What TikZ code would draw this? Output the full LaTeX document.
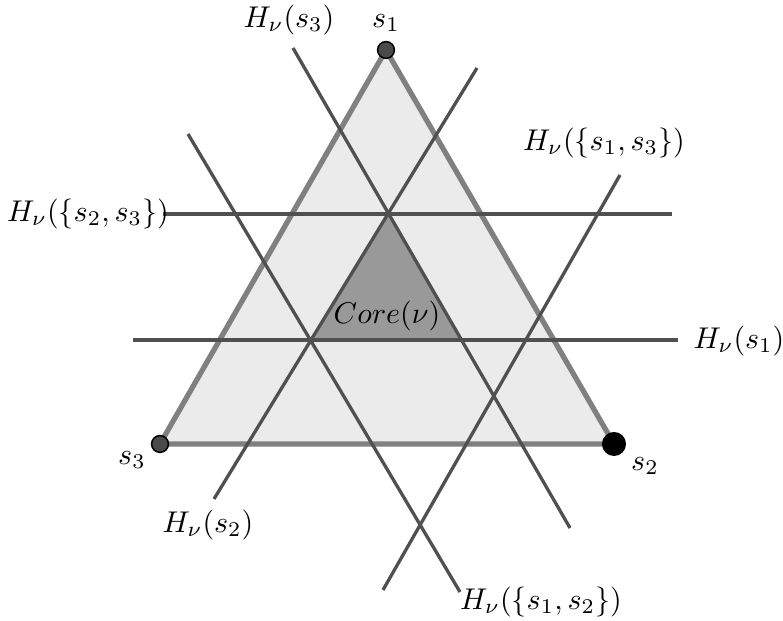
\documentclass[tikz,border=0pt]{standalone}
\definecolor{trifill}{HTML}{EBEBEB}
\definecolor{edgegrey}{HTML}{808080}
\definecolor{linegrey}{HTML}{505050}
\definecolor{corefill}{HTML}{999999}
\definecolor{dotgrey}{HTML}{4A4A4A}
\begin{document}
\begin{tikzpicture}[x=0.3333pt,y=-0.3333pt,
  edgeline/.style={draw=edgegrey,line width=1.75pt,line join=round},
  hline/.style={draw=linegrey,line width=1.1pt},
  lbl/.style={inner sep=0pt},
  smalldot/.style={circle,fill=dotgrey,draw=black,line width=0.5pt,minimum size=5.6pt,inner sep=0pt},
  bigdot/.style={circle,fill=black,draw=black,minimum size=7.6pt,inner sep=0pt}]
\useasboundingbox (0,0) rectangle (783,621);
% vertices
\coordinate (S1) at (386,50);
\coordinate (S2) at (614,444);
\coordinate (S3) at (160,444);
% core
\coordinate (C1) at (388,214);
\coordinate (C2) at (311,340);
\coordinate (C3) at (462,340);
\fill[trifill] (S1)--(S2)--(S3)--cycle;
\fill[corefill] (C1)--(C2)--(C3)--cycle;
\draw[edgeline] (S1)--(S2)--(S3)--cycle;
% line end points
\coordinate (a1) at (133,340); \coordinate (a2) at (678,340);
\coordinate (b1) at (163,214); \coordinate (b2) at (672,214);
\coordinate (c1) at (477,68);  \coordinate (c2) at (214,499);
\coordinate (d1) at (293,48);  \coordinate (d2) at (570,528);
\coordinate (e1) at (188,134); \coordinate (e2) at (460,592);
\coordinate (f1) at (620,175); \coordinate (f2) at (383,590);
\draw[hline] (a1)--(a2);
\draw[hline] (b1)--(b2);
\draw[hline] (c1)--(c2);
\draw[hline] (d1)--(d2);
\draw[hline] (e1)--(e2);
\draw[hline] (f1)--(f2);
% dots
\node[smalldot] (s1dot) at (S1) {};
\node[smalldot] (s3dot) at (S3) {};
\node[bigdot] (s2dot) at (S2) {};
% labels
\node[lbl] (ls1) at (386,23) {$s_1$};
\node[lbl] (ls2) at (645,466) {$s_2$};
\node[lbl] (ls3) at (132,460) {$s_3$};
\node[lbl] (lh3) at (289,20) {$H_\nu(s_3)$};
\node[lbl] (lh13) at (604,143) {$H_\nu(\{s_1,s_3\})$};
\node[lbl] (lh23) at (88,214) {$H_\nu(\{s_2,s_3\})$};
\node[lbl] (lh1) at (739,341) {$H_\nu(s_1)$};
\node[lbl] (lh2) at (208,525) {$H_\nu(s_2)$};
\node[lbl] (lh12) at (541,602) {$H_\nu(\{s_1,s_2\})$};
\node[lbl] (core) at (387,316) {$Core(\nu)$};
\end{tikzpicture}
\end{document}
